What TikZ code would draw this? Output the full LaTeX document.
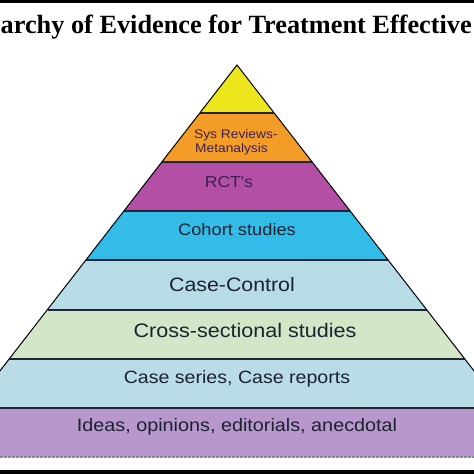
\documentclass[tikz,border=0pt]{standalone}
\usepackage{fontspec}
\setmainfont{Liberation Serif}
\newfontfamily\labelfont{Liberation Sans}
\definecolor{cYellow}{HTML}{EEE61C}
\definecolor{cOrange}{HTML}{F39C28}
\definecolor{cMagenta}{HTML}{B44FA6}
\definecolor{cCyan}{HTML}{33BCE7}
\definecolor{cLightBlue}{HTML}{B8DCE5}
\definecolor{cLightGreen}{HTML}{D4E6C8}
\definecolor{cLightBlueB}{HTML}{B9DCE6}
\definecolor{cLavender}{HTML}{B898CC}
\definecolor{cSep}{HTML}{1E2633}
\definecolor{cText}{HTML}{1C2230}
\definecolor{cPurpleText}{HTML}{3C2050}
\newcommand{\sx}[1]{\scalebox{1.1}[1]{#1}}
\tikzset{
  sepline/.style={cSep, line width=2pt},
  edgeline/.style={black, line width=1pt},
  lbl/.style={anchor=base, inner sep=0pt, text=cText},
}
\begin{document}
\begin{tikzpicture}[x=1pt,y=-1pt]
\useasboundingbox (0,0) rectangle (474,474);
\fill[white] (0,0) rectangle (474,474);
\begin{scope}
\clip (0,0) rectangle (474,474);
% layers
\fill[cYellow] (237,65) -- (274.2,113) -- (199.8,113) -- cycle;
\fill[cOrange] (199.8,113) -- (274.2,113) -- (312.2,162) -- (161.8,162) -- cycle;
\fill[cMagenta] (161.8,162) -- (312.2,162) -- (350.15,211) -- (123.85,211) -- cycle;
\fill[cCyan] (123.85,211) -- (350.15,211) -- (388.1,260) -- (85.9,260) -- cycle;
\fill[cLightBlue] (85.9,260) -- (388.1,260) -- (426.5,309.5) -- (47.5,309.5) -- cycle;
\fill[cLightGreen] (47.5,309.5) -- (426.5,309.5) -- (464.85,359) -- (9.15,359) -- cycle;
\fill[cLightBlueB] (9.15,359) -- (464.85,359) -- (502.8,408) -- (-28.8,408) -- cycle;
\fill[cLavender] (-28.8,408) -- (502.8,408) -- (540.8,457) -- (-66.8,457) -- cycle;
% separators
\draw[sepline] (199.8,113) -- (274.2,113);
\draw[sepline] (161.8,162) -- (312.2,162);
\draw[sepline] (123.85,211) -- (350.15,211);
\draw[sepline] (85.9,260) -- (388.1,260);
\draw[sepline] (47.5,309.5) -- (426.5,309.5);
\draw[sepline] (9.15,359) -- (464.85,359);
\draw[sepline] (-28.8,408) -- (502.8,408);
\draw[gray!70!cLavender, line width=1.2pt, dash pattern=on 3pt off 1pt] (0,457) -- (474,457);
% outer edges
\draw[edgeline] (-28.8,408) -- (237,65) -- (502.8,408);
% black bars
\fill[black] (0,0) rectangle (474,3);
\fill[black] (0,470) rectangle (474,474);
% title
\node[anchor=base west, inner sep=0pt, font=\bfseries\fontsize{26.3}{30}\selectfont] (title) at (0.5,33) {archy of Evidence for Treatment Effective};
\end{scope}
% labels
\node[lbl, anchor=base west, text=cPurpleText, font=\labelfont\fontsize{12.5}{14}\selectfont] (sys1) at (194,138) {\sx{Sys Reviews-}};
\node[lbl, anchor=base west, text=cPurpleText, font=\labelfont\fontsize{12.5}{14}\selectfont] (sys2) at (195,152) {\sx{Metanalysis}};
\node[lbl, text=cPurpleText, font=\labelfont\fontsize{15.9}{18}\selectfont] (rct) at (229,187) {\sx{RCT's}};
\node[lbl, font=\labelfont\fontsize{16.6}{19}\selectfont] (cohort) at (237,235) {\sx{Cohort studies}};
\node[lbl, font=\labelfont\fontsize{19.4}{22}\selectfont] (casecontrol) at (232,291.5) {\sx{Case-Control}};
\node[lbl, font=\labelfont\fontsize{19.6}{22}\selectfont] (cross) at (245,337) {\sx{Cross-sectional studies}};
\node[lbl, font=\labelfont\fontsize{17.8}{21}\selectfont] (series) at (237,383) {\sx{Case series, Case reports}};
\node[lbl, font=\labelfont\fontsize{18}{21}\selectfont] (ideas) at (237,431.5) {\sx{Ideas, opinions, editorials, anecdotal}};
\end{tikzpicture}
\end{document}
